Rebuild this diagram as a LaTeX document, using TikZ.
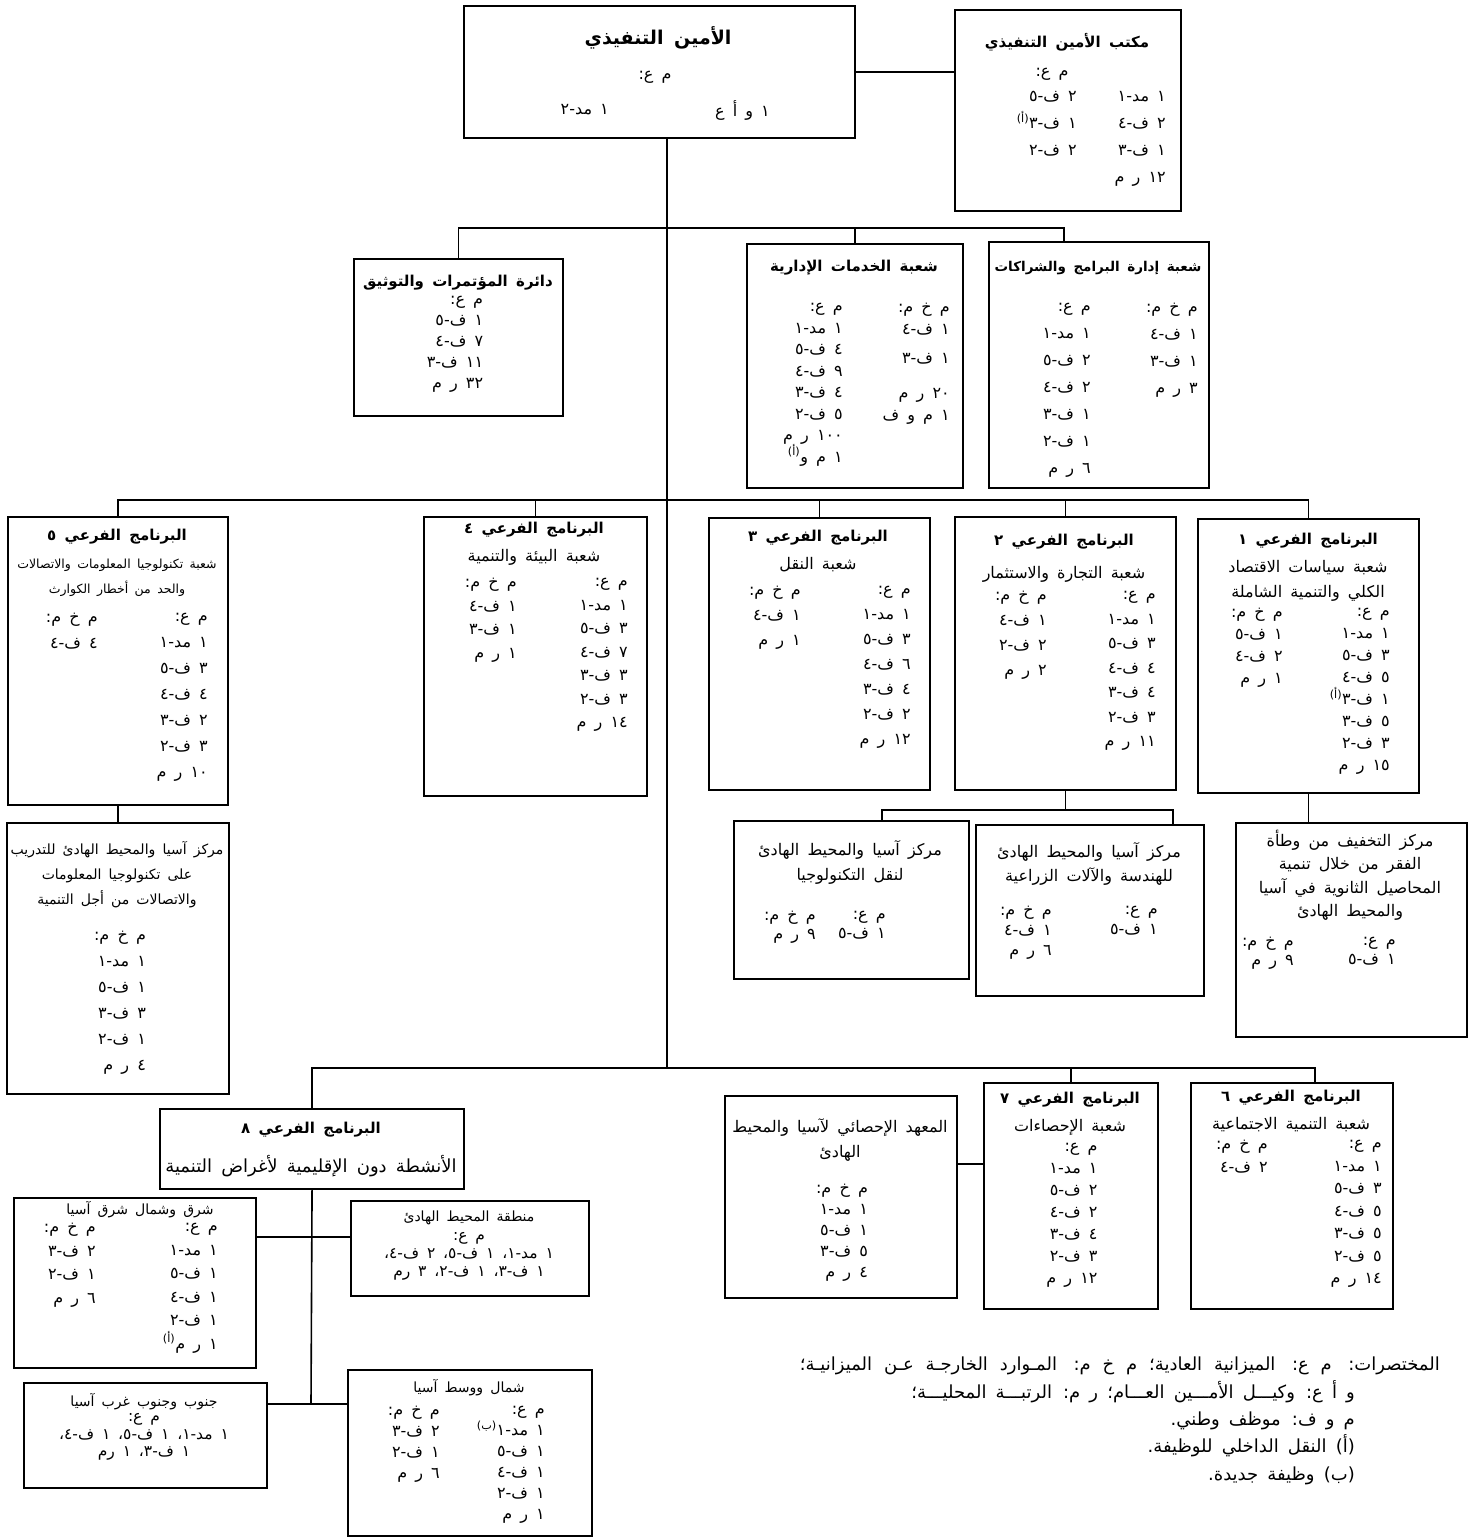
\documentclass[tikz,border=0pt]{standalone}
\usepackage{fontspec}
\TeXXeTstate=1
\newfontfamily\arabicfont[Script=Arabic,WordSpace=1.6]{DejaVu Sans}
\newcommand{\AR}[1]{\beginR #1\endR}
\newcommand{\supA}{\textsuperscript{(أ)}}
\newcommand{\supB}{\textsuperscript{(ب)}}

\begin{document}
\begin{tikzpicture}[x=1pt,y=-1pt,
    bx/.style 2 args={draw,line width=2.1pt,anchor=north west,inner sep=0pt,minimum width=#1,minimum height=#2},
    head/.style={font=\arabicfont\bfseries\fontsize{15}{20}\selectfont,inner sep=0pt},
    txt/.style={font=\arabicfont\fontsize{16}{#1}\selectfont,inner sep=0pt,align=center},
    txt/.default=24,
    col/.style={font=\arabicfont\fontsize{16}{#1}\selectfont,inner sep=0pt,align=right,anchor=north east,execute at begin node={\rule{0pt}{14pt}}},
    col/.default=22,
    link/.style={line width=1.6pt}]
    \useasboundingbox[fill=white] (0,0) rectangle (1470,1540);

    % top
    \node[bx={391}{132}] (es) at (463,5) {};
    \node[head,font=\arabicfont\bfseries\fontsize{19}{22}\selectfont] (esT) at (658,38) {\AR{الأمين التنفيذي}};
    \node[txt] (esH) at (655,77) {\AR{م ع:}};
    \node[txt,anchor=east] (esA) at (770,110) {\AR{١ و أ ع}};
    \node[txt,anchor=east] (esB) at (609,110) {\AR{١ مد-٢}};

    \node[bx={226}{201}] (ofc) at (954,9) {};
    \node[head] (ofcT) at (1067,42) {\AR{مكتب الأمين التنفيذي}};
    \node[txt] (ofcH) at (1052,74) {\AR{م ع:}};
    \node[col=27] (ofcA) at (1166,91) {\AR{١ مد-١}\\\AR{٢ ف-٤}\\\AR{١ ف-٣}\\\AR{١٢ ر م}};
    \node[col=27] (ofcB) at (1077,91) {\AR{٢ ف-٥}\\\AR{١ ف-٣\supA}\\\AR{٢ ف-٢}};

    % divisions
    \node[bx={209}{157}] (cf) at (353,258) {};
    \node[head] (cfT) at (458,283) {\AR{دائرة المؤتمرات والتوثيق}};
    \node[col=21,anchor=north] (cfA) at (455,296) {\AR{م ع:}\\\AR{١ ف-٥}\\\AR{٧ ف-٤}\\\AR{١١ ف-٣}\\\AR{٣٢ ر م}};

    \node[bx={216}{244}] (ad) at (746,243) {};
    \node[head] (adT) at (854,268) {\AR{شعبة الخدمات الإدارية}};
    \node[col=21.5] (adA) at (843,303) {\AR{م ع:}\\\AR{١ مد-١}\\\AR{٤ ف-٥}\\\AR{٩ ف-٤}\\\AR{٤ ف-٣}\\\AR{٥ ف-٢}\\\AR{١٠٠ ر م}\\\AR{١ م و\supA}};
    \node[col=22] (adB) at (950,303) {\AR{م خ م:}\\\AR{١ ف-٤}\\[7pt]\AR{١ ف-٣}\\[13pt]\AR{٢٠ ر م}\\\AR{١ م و ف}};

    \node[bx={220}{246}] (pg) at (988,241) {};
    \node[head,font=\arabicfont\bfseries\fontsize{13.5}{20}\selectfont] (pgT) at (1098,268) {\AR{شعبة إدارة البرامج والشراكات}};
    \node[col=27] (pgA) at (1091,303) {\AR{م ع:}\\\AR{١ مد-١}\\\AR{٢ ف-٥}\\\AR{٢ ف-٤}\\\AR{١ ف-٣}\\\AR{١ ف-٢}\\\AR{٦ ر م}};
    \node[col=27] (pgB) at (1198,303) {\AR{م خ م:}\\\AR{١ ف-٤}\\\AR{١ ف-٣}\\\AR{٣ ر م}};

    % subprogrammes 1-5
    \node[bx={221}{274}] (s1) at (1197,518) {};
    \node[head] (s1T) at (1308,541) {\AR{البرنامج الفرعي ١}};
    \node[txt=25] (s1S) at (1308,581) {\AR{شعبة سياسات الاقتصاد}\\\AR{الكلي والتنمية الشاملة}};
    \node[col=22] (s1A) at (1390,608) {\AR{م ع:}\\\AR{١ مد-١}\\\AR{٣ ف-٥}\\\AR{٥ ف-٤}\\\AR{١ ف-٣\supA}\\\AR{٥ ف-٣}\\\AR{٣ ف-٢}\\\AR{١٥ ر م}};
    \node[col=22] (s1B) at (1283,608) {\AR{م خ م:}\\\AR{١ ف-٥}\\\AR{٢ ف-٤}\\\AR{١ ر م}};

    \node[bx={221}{273}] (s2) at (954,516) {};
    \node[head] (s2T) at (1064,542) {\AR{البرنامج الفرعي ٢}};
    \node[txt] (s2S) at (1064,574) {\AR{شعبة التجارة والاستثمار}};
    \node[col=24.5] (s2A) at (1156,591) {\AR{م ع:}\\\AR{١ مد-١}\\\AR{٣ ف-٥}\\\AR{٤ ف-٤}\\\AR{٤ ف-٣}\\\AR{٣ ف-٢}\\\AR{١١ ر م}};
    \node[col=25] (s2B) at (1047,591) {\AR{م خ م:}\\\AR{١ ف-٤}\\\AR{٢ ف-٢}\\\AR{٢ ر م}};

    \node[bx={221}{272}] (s3) at (708,517) {};
    \node[head] (s3T) at (818,538) {\AR{البرنامج الفرعي ٣}};
    \node[txt] (s3S) at (818,565) {\AR{شعبة النقل}};
    \node[col=25] (s3A) at (911,586) {\AR{م ع:}\\\AR{١ مد-١}\\\AR{٣ ف-٥}\\\AR{٦ ف-٤}\\\AR{٤ ف-٣}\\\AR{٢ ف-٢}\\\AR{١٢ ر م}};
    \node[col=25] (s3B) at (801,586) {\AR{م خ م:}\\\AR{١ ف-٤}\\\AR{١ ر م}};

    \node[bx={223}{279}] (s4) at (423,516) {};
    \node[head] (s4T) at (534,530) {\AR{البرنامج الفرعي ٤}};
    \node[txt] (s4S) at (534,557) {\AR{شعبة البيئة والتنمية}};
    \node[col=23.5] (s4A) at (628,578) {\AR{م ع:}\\\AR{١ مد-١}\\\AR{٣ ف-٥}\\\AR{٧ ف-٤}\\\AR{٣ ف-٣}\\\AR{٣ ف-٢}\\\AR{١٤ ر م}};
    \node[col=23.5] (s4B) at (517,578) {\AR{م خ م:}\\\AR{١ ف-٤}\\\AR{١ ف-٣}\\\AR{١ ر م}};

    \node[bx={220}{288}] (s5) at (7,516) {};
    \node[head] (s5T) at (117,537) {\AR{البرنامج الفرعي ٥}};
    \node[txt=25,font=\arabicfont\fontsize{12.5}{25}\selectfont] (s5S) at (117,578) {\AR{شعبة تكنولوجيا المعلومات والاتصالات}\\\AR{والحد من أخطار الكوارث}};
    \node[col=26] (s5A) at (208,613) {\AR{م ع:}\\\AR{١ مد-١}\\\AR{٣ ف-٥}\\\AR{٤ ف-٤}\\\AR{٢ ف-٣}\\\AR{٣ ف-٢}\\\AR{١٠ ر م}};
    \node[col=26] (s5B) at (98,613) {\AR{م خ م:}\\\AR{٤ ف-٤}};

    % regional institutions
    \node[bx={222}{271}] (ict) at (6,822) {};
    \node[txt=25,font=\arabicfont\fontsize{14}{25}\selectfont] (ictT) at (117,875) {\AR{مركز آسيا والمحيط الهادئ للتدريب}\\\AR{على تكنولوجيا المعلومات}\\\AR{والاتصالات من أجل التنمية}};
    \node[col=26,anchor=north] (ictA) at (120,931) {\AR{م خ م:}\\\AR{١ مد-١}\\\AR{١ ف-٥}\\\AR{٣ ف-٣}\\\AR{١ ف-٢}\\\AR{٤ ر م}};

    \node[bx={235}{158}] (tt) at (733,820) {};
    \node[txt=25] (ttT) at (850,862) {\AR{مركز آسيا والمحيط الهادئ}\\\AR{لنقل التكنولوجيا}};
    \node[col=19] (ttA) at (886,911) {\AR{م ع:}\\\AR{١ ف-٥}};
    \node[col=19] (ttB) at (816,911) {\AR{م خ م:}\\\AR{٩ ر م}};

    \node[bx={228}{171}] (eg) at (975,824) {};
    \node[txt=24] (egT) at (1089,864) {\AR{مركز آسيا والمحيط الهادئ}\\\AR{للهندسة والآلات الزراعية}};
    \node[col=20] (egA) at (1158,906) {\AR{م ع:}\\\AR{١ ف-٥}};
    \node[col=20] (egB) at (1052,906) {\AR{م خ م:}\\\AR{١ ف-٤}\\\AR{٦ ر م}};

    \node[bx={231}{214}] (cp) at (1235,822) {};
    \node[txt=23.5] (cpT) at (1350,875) {\AR{مركز التخفيف من وطأة}\\\AR{الفقر من خلال تنمية}\\\AR{المحاصيل الثانوية في آسيا}\\\AR{والمحيط الهادئ}};
    \node[col=19] (cpA) at (1396,937) {\AR{م ع:}\\\AR{١ ف-٥}};
    \node[col=19] (cpB) at (1294,937) {\AR{م خ م:}\\\AR{٩ ر م}};

    % subprogrammes 6-8
    \node[bx={202}{226}] (s6) at (1190,1082) {};
    \node[head] (s6T) at (1291,1098) {\AR{البرنامج الفرعي ٦}};
    \node[txt] (s6S) at (1291,1125) {\AR{شعبة التنمية الاجتماعية}};
    \node[col=22.5] (s6A) at (1382,1140) {\AR{م ع:}\\\AR{١ مد-١}\\\AR{٣ ف-٥}\\\AR{٥ ف-٤}\\\AR{٥ ف-٣}\\\AR{٥ ف-٢}\\\AR{١٤ ر م}};
    \node[col=22.5] (s6B) at (1268,1140) {\AR{م خ م:}\\\AR{٢ ف-٤}};

    \node[bx={174}{226}] (s7) at (983,1082) {};
    \node[head] (s7T) at (1070,1100) {\AR{البرنامج الفرعي ٧}};
    \node[txt] (s7S) at (1070,1127) {\AR{شعبة الإحصاءات}};
    \node[col=22,anchor=north] (s7A) at (1072,1143) {\AR{م ع:}\\\AR{١ مد-١}\\\AR{٢ ف-٥}\\\AR{٢ ف-٤}\\\AR{٤ ف-٣}\\\AR{٣ ف-٢}\\\AR{١٢ ر م}};

    \node[bx={232}{202}] (si) at (724,1095) {};
    \node[txt=25] (siT) at (840,1140) {\AR{المعهد الإحصائي لآسيا والمحيط}\\\AR{الهادئ}};
    \node[col=21,anchor=north] (siA) at (842,1184) {\AR{م خ م:}\\\AR{١ مد-١}\\\AR{١ ف-٥}\\\AR{٥ ف-٣}\\\AR{٤ ر م}};

    \node[bx={304}{80}] (s8) at (159,1108) {};
    \node[head] (s8T) at (311,1130) {\AR{البرنامج الفرعي ٨}};
    \node[txt,font=\arabicfont\fontsize{18}{20}\selectfont] (s8S) at (311,1166) {\AR{الأنشطة دون الإقليمية لأغراض التنمية}};

    % subregional offices
    \node[bx={242}{170}] (en) at (13,1197) {};
    \node[txt,font=\arabicfont\fontsize{14}{18}\selectfont] (enT) at (140,1210) {\AR{شرق وشمال شرق آسيا}};
    \node[col=23.5] (enA) at (218,1223) {\AR{م ع:}\\\AR{١ مد-١}\\\AR{١ ف-٥}\\\AR{١ ف-٤}\\\AR{١ ف-٢}\\\AR{١ ر م\supA}};
    \node[col=23.5] (enB) at (96,1223) {\AR{م خ م:}\\\AR{٢ ف-٣}\\\AR{١ ف-٢}\\\AR{٦ ر م}};

    \node[bx={238}{95}] (pa) at (350,1200) {};
    \node[txt,font=\arabicfont\fontsize{14}{18}\selectfont] (paT) at (469,1218) {\AR{منطقة المحيط الهادئ}};
    \node[txt=18,font=\arabicfont\fontsize{15.5}{18}\selectfont] (paA) at (469,1256) {\AR{م ع:}\\\AR{١ مد-١، ١ ف-٥، ٢ ف-٤،}\\\AR{١ ف-٣، ١ ف-٢، ٣ رم}};

    \node[bx={243}{105}] (sa) at (23,1382) {};
    \node[txt,font=\arabicfont\fontsize{14}{18}\selectfont] (saT) at (144,1402) {\AR{جنوب وجنوب غرب آسيا}};
    \node[txt,font=\arabicfont\fontsize{15.5}{17.5}\selectfont] (saA) at (144,1437) {\AR{م ع:}\\\AR{١ مد-١، ١ ف-٥، ١ ف-٤،}\\\AR{١ ف-٣، ١ رم}};

    \node[bx={244}{166}] (nc) at (347,1369) {};
    \node[txt,font=\arabicfont\fontsize{14}{18}\selectfont] (ncT) at (469,1388) {\AR{شمال ووسط آسيا}};
    \node[col=21] (ncA) at (545,1406) {\AR{م ع:}\\\AR{١ مد-١\supB}\\\AR{١ ف-٥}\\\AR{١ ف-٤}\\\AR{١ ف-٢}\\\AR{١ ر م}};
    \node[col=21] (ncB) at (440,1406) {\AR{م خ م:}\\\AR{٢ ف-٣}\\\AR{١ ف-٢}\\\AR{٦ ر م}};

    % abbreviations
    \node[txt,font=\arabicfont\fontsize{18}{20}\selectfont,anchor=base east] (ab1) at (1440,1370) {\hbox to 640pt{\beginR المختصرات: م ع: الميزانية العادية؛ م خ م: المـوارد الخارجـة عـن الميزانيـة؛\endR}};
    \node[txt,font=\arabicfont\fontsize{18}{20}\selectfont,anchor=base east] (ab2) at (1355,1398) {\AR{و أ ع: وكيـــل الأمـــين العـــام؛ ر م: الرتبـــة المحليـــة؛}};
    \node[txt,font=\arabicfont\fontsize{18}{20}\selectfont,anchor=base east] (ab3) at (1355,1425) {\AR{م و ف: موظف وطني.}};
    \node[txt,font=\arabicfont\fontsize{18}{20}\selectfont,anchor=base east] (ab4) at (1355,1452) {\AR{(أ) النقل الداخلي للوظيفة.}};
    \node[txt,font=\arabicfont\fontsize{18}{20}\selectfont,anchor=base east] (ab5) at (1355,1480) {\AR{(ب) وظيفة جديدة.}};

    % connectors
    \coordinate (j1) at (667,228);
    \coordinate (j2) at (667,500);
    \coordinate (j3) at (667,1068);
    \coordinate (pgx) at (1064,228);
    \coordinate (c2a) at (882,810);
    \coordinate (c2b) at (1173,810);
    \coordinate (s6x) at (1315,1068);
    \coordinate (sy) at (0,1164);
    \coordinate (k1) at (311,1237);
    \coordinate (k2) at (311,1404);

    \draw[link] (es.east) -- (es.east -| ofc.west);
    \draw[link] (es.south -| j1) -- (j3);
    \draw[link] (cf.north) |- (pgx) -- (pg.north -| pgx);
    \draw[link] (ad.north) -- (ad.north |- j1);
    \draw[link] (s5.north) |- (j2) -| (s1.north);
    \draw[link] (s4.north) -- (s4.north |- j2);
    \draw[link] (s3.north) -- (s3.north |- j2);
    \draw[link] (s2.north) -- (s2.north |- j2);
    \draw[link] (s5.south) -- (ict.north);
    \draw[link] (s1.south) -- (s1.south |- cp.north);
    \draw[link] (s2.south) -- (s2.south |- c2a);
    \draw[link] (tt.north -| c2a) -- (c2a) -- (c2b) -- (eg.north -| c2b);
    \draw[link] (s8.north) |- (s6x) -- (s6.north -| s6x);
    \draw[link] (s7.north) -- (s7.north |- j3);
    \draw[link] (si.east |- sy) -- (s7.west |- sy);
    \draw[link] (s8.south) -- (k2);
    \draw[link] (en.east |- k1) -- (pa.west |- k1);
    \draw[link] (sa.east |- k2) -- (nc.west |- k2);
\end{tikzpicture}
\end{document}
